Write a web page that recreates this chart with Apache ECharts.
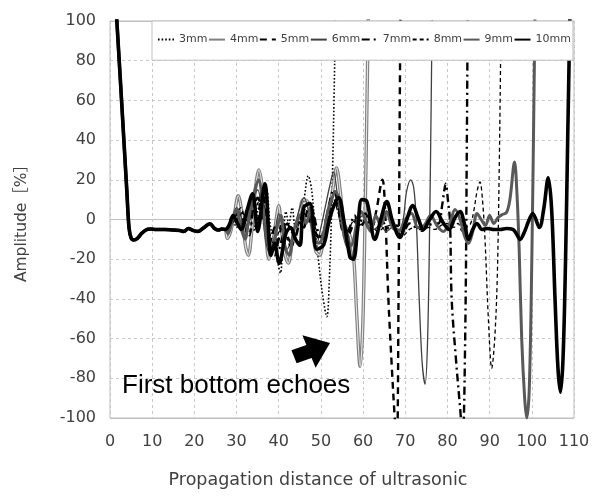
<!DOCTYPE html>
<html>
<head>
<meta charset="utf-8">
<script src="https://cdn.jsdelivr.net/npm/echarts/dist/echarts.min.js"></script>
<style>
html,body{margin:0;padding:0;background:#fff;}
#chart{width:593px;height:498px;}
</style>
</head>
<body>
<div id="chart"></div>
<script>
// Thickness labels of the test pieces (legend order)
const thicknessNames = ['3mm', '4mm', '5mm', '6mm', '7mm', '8mm', '9mm', '10mm'];

// Axis ticks
const xTicks = [0, 10, 20, 30, 40, 50, 60, 70, 80, 90, 100, 110];
const yTicks = [-100, -80, -60, -40, -20, 0, 20, 40, 60, 80, 100];

// Initial pulse and dead zone, shared by every waveform: [distance, amplitude %]
const sharedStart = [
  [1.2, 115], [2.6, 65], [4.0, 14], [4.5, -4], [5.0, -9.3], [5.6, -10.3], [6.5, -9.5],
  [7.5, -7], [8.5, -5.3], [9.5, -4.8], [11, -5], [13, -5], [15, -5.3], [16.5, -5.5],
  [17.5, -6], [18.6, -4.5], [19.7, -5.5], [20.9, -6], [22, -4.5], [23.7, -2.2],
  [24.8, -4.5], [25.7, -5.3], [26.5, -4.8], [27.3, -5]
];

// Remaining part of each waveform, up to its first bottom echo
const wave3mm = [
  [28, -6], [29, 0], [30, -4], [31, 3], [32, -2], [33, 7], [34, -6], [35, 4], [36, 12],
  [37, 16], [38, -3], [39, -12], [39.8, -22], [40.4, -27], [41, -12], [41.7, 4],
  [42.4, -2], [43.2, 6], [44, -4], [45, -2], [46, 10], [47, 22], [47.8, 15], [48.6, -4],
  [49.5, -22], [50.4, -38], [51.4, -49], [52, -30], [52.6, 10], [53.1, 60], [53.5, 110],
  [53.7, 140]
];
const wave4mm = [
  [27.8, -9.5], [28.6, -6], [29.5, 3], [30.4, 12], [31.3, 3], [32.1, -13], [32.8, -18],
  [33.6, -6], [34.4, 14], [35.3, 25], [36.1, 16], [36.9, -6], [37.7, -20], [38.6, -12],
  [39.4, 0], [40, 7], [40.6, -4], [41.4, -17], [42.3, -22], [43.1, -13], [44, -5],
  [45, 4], [45.8, 10], [46.8, 9], [47.8, -3], [48.8, -16], [49.7, -18], [50.7, -8],
  [51.8, 4], [52.8, 15], [53.7, 26], [54.6, 14], [55.4, -2], [56.2, -5], [57, -9],
  [57.8, -20], [58.5, -48], [59.3, -74], [59.9, -55], [60.5, 5], [61, 70], [61.4, 130]
];
const wave5mm = [
  [28, -6], [29, -1], [30, 3], [31, -2], [32, -6], [33, 5], [34, 9], [35, 0], [36, 14],
  [37, 4], [38, -14], [39, -18], [40, -10], [41, -2], [42, -8], [43, -12], [44, -4],
  [45, 2], [46, -4], [47, 6], [48, 2], [49, -8], [50, -10], [51, -3], [52, 5], [53, 12],
  [54, 6], [55, -5], [56, -10], [57, -6], [58, -1], [59, -4], [60, -2], [61, 2],
  [62, -4], [63, 3], [64.6, 20], [65.2, 5], [66, -40], [66.8, -74], [67.5, -100],
  [68, -115], [68.4, -40], [68.7, 60], [69, 140]
];
const wave6mm = [
  [28, -4], [29, 1], [30, 6], [31, 2], [32, -8], [33, -2], [34, 10], [35, 15], [36, 5],
  [37, -12], [38, -18], [39, -8], [40, 3], [41, -6], [42, -15], [43, -10], [44, -2],
  [45, 6], [46, 11], [47, 5], [48, -6], [49, -12], [50, -4], [51, 6], [52, 16], [53, 24],
  [53.8, 14], [54.6, -2], [55.5, -4], [56.5, -8], [57.3, -20], [58, -12], [59, 0],
  [60, 2], [61, -4], [62.5, -5], [64, -3], [65.5, -6], [67, -4], [68.5, -5], [69.5, 0],
  [70.3, 14], [71.3, 20], [72, 16], [72.6, 0], [73.3, -40], [74, -72], [74.7, -83],
  [75.3, -60], [75.8, 0], [76.2, 70], [76.5, 130]
];
const wave7mm = [
  [28, -5], [29, 2], [30, -1], [31, 4], [32, -4], [33, -8], [34, 6], [35, 11], [36, 3],
  [37, -6], [38, -10], [39, -4], [40, -15], [41, -8], [42, -2], [43, -6], [44, -8],
  [45, 0], [46, 3], [47, -2], [48, 4], [49, -4], [50, -9], [51, -2], [52, 8], [53, 15],
  [54, 8], [55, -4], [56, -9], [57, -3], [58, 2], [59, -2], [60.5, 3], [62, -4],
  [63.5, 2], [65, -2], [66.5, -5], [68, -3], [69.5, -6], [71, -2], [72.5, -4], [74, -5],
  [75.5, -3], [77, -2], [77.9, -2], [78.8, 8], [79.6, 18], [80.1, 10], [80.6, -1],
  [81, -40], [82, -70], [83, -95], [83.6, -110], [84.2, -60], [84.6, 40], [84.9, 140]
];
const wave8mm = [
  [28, -5], [29, -2], [30, 2], [31, 6], [32, 0], [33, -6], [34, 4], [35, 8], [36, 12],
  [37, 0], [38, -8], [39, -14], [40, -6], [41, 0], [42, -10], [43, -14], [44, -8],
  [45, -1], [46, 4], [47, 8], [48, 0], [49, -6], [50, -12], [51, -6], [52, 4], [53, 10],
  [54, 4], [55, -2], [56, -6], [57, -3], [58, 0], [59, -3], [60.5, -1], [62, -3],
  [63.5, -6], [65, -4], [66.5, -3], [68, -6], [69.5, -8], [71, -5], [72.5, -4], [74, -6],
  [75.5, -4], [77, -5], [78.5, -3], [80, -2], [81.5, -4], [82.5, -2], [83.5, -6],
  [84.5, -4], [85.5, -2], [86.3, 5], [87, 14], [87.7, 19], [88.3, 10], [88.9, -10],
  [89.7, -50], [90.5, -75], [91.2, -60], [91.8, -30], [92.3, 30], [92.7, 100], [92.9, 140]
];
const wave9mm = [
  [28, -7], [29, 0], [30, 5], [31, -4], [32, -10], [33, 3], [34, 12], [35.2, 20],
  [36.2, 8], [37.2, -10], [38.5, -16], [39.5, -5], [40.5, 2], [41.5, -14], [42.5, -18],
  [43.5, -6], [44.5, 0], [45.5, 3], [46.5, -2], [47.5, 5], [48.5, -10], [49.5, -12],
  [50.5, -8], [51.5, 3], [52.5, 10], [53.5, 14], [54.5, 8], [55.5, -8], [56.5, -14],
  [57.5, -12], [58.5, -2], [59.5, 4], [60.5, 0], [61.8, -6], [63, 2], [64.2, -3],
  [65.5, 4], [67, -4], [68.5, -6], [70, 0], [71.5, 3], [73, -4], [74.5, -3], [76, 2],
  [77.5, -3], [79, -6], [80.5, -2], [81.8, 5], [83, 0], [84, -8], [85, -12], [86, -6],
  [87, 3], [88, 0], [89, -3], [90, 2], [91, -2], [92, 1], [93, 2.5], [94, 3.5],
  [94.8, 10], [95.9, 29], [96.5, 12], [97, -15], [97.6, -60], [98.3, -90], [98.8, -100],
  [99.4, -85], [100, -20], [100.5, 60], [100.9, 130]
];
const wave10mm = [
  [28.2, -3], [29.2, 2], [30.2, -2], [31.1, -5], [32.4, 4], [33.8, 13], [35, -6],
  [36.7, 18], [38.2, -18], [39, -12], [40.1, -22], [41.7, -7], [42.8, -4], [44, -10],
  [45, -13], [45.9, 6], [47.4, 8], [49, -15], [50.6, -13], [51.8, -2], [52.9, 6],
  [54.2, 11], [55.4, 0], [56.9, -19], [57.7, -20], [58.7, -5], [59.7, 10], [60.9, 9],
  [62.8, -10], [64.2, 0], [65.6, 9], [67, -1], [68.7, -9], [70.2, -1], [71.8, 7],
  [73, 1], [74.3, -5], [75.8, 0], [77.3, 4], [78.8, -1], [80.4, -5], [81.8, 1], [83, 4],
  [84, -2], [85, -10], [86, -5], [87, -2], [88.2, -5], [89.5, -4.5], [91, -5],
  [92.5, -5], [94, -4.5], [95.5, -5], [96.3, -7], [97.2, -10], [98.3, -6], [99.2, -1],
  [100.2, 3], [101.8, -4], [102.8, 5], [103.9, 21], [104.7, 5], [105.5, -40],
  [106.2, -75], [106.8, -87], [107.4, -70], [108, -20], [108.5, 40], [109, 100],
  [109.3, 140]
];

const FONT = "'DejaVu Sans', 'Noto Sans CJK JP', sans-serif";

function wave(name, points, color, width, type) {
  return {
    name: name,
    type: 'line',
    data: sharedStart.concat(points),
    smooth: 0.35,
    symbol: 'none',
    clip: true,
    lineStyle: { color: color, width: width, type: type },
    itemStyle: { color: color },
    emphasis: { disabled: true },
    animation: false
  };
}

// 4mm is drawn as a compound (double) line: gray outline with a light core
const core4mm = wave('4mm core', wave4mm, '#e6e6e6', 1.1, 'solid');

const series = [
  wave('3mm', wave3mm, '#000000', 1.6, [1.6, 2]),
  wave('4mm', wave4mm, '#808080', 3.4, 'solid'),
  core4mm,
  wave('5mm', wave5mm, '#000000', 2.4, [7, 5]),
  wave('6mm', wave6mm, '#404040', 1.3, 'solid'),
  wave('7mm', wave7mm, '#000000', 2.4, [8, 4, 2, 4]),
  wave('8mm', wave8mm, '#000000', 1.3, [4, 3]),
  wave('9mm', wave9mm, '#595959', 3, 'solid'),
  wave('10mm', wave10mm, '#000000', 3.6, 'solid')
];

const chart = echarts.init(document.getElementById('chart'), null, { renderer: 'canvas' });
chart.setOption({
  animation: false,
  backgroundColor: '#ffffff',
  grid: {
    left: 110, right: 19, top: 21, bottom: 80,
    show: true, borderColor: '#bfbfbf', borderWidth: 1, backgroundColor: 'transparent'
  },
  legend: {
    data: thicknessNames,
    left: 152, top: 21,
    padding: [13, 2, 15, 5],
    backgroundColor: '#ffffff', borderColor: '#bfbfbf', borderWidth: 1,
    itemWidth: 16, itemHeight: 14, itemGap: 0.5,
    itemStyle: { opacity: 0 },
    selectedMode: false,
    textStyle: { fontSize: 11, color: '#404040', fontFamily: FONT }
  },
  xAxis: {
    type: 'value',
    min: xTicks[0], max: xTicks[xTicks.length - 1], interval: 10,
    name: 'Propagation distance of ultrasonic',
    nameLocation: 'middle', nameGap: 54,
    nameTextStyle: { fontSize: 17.5, color: '#404040', fontFamily: FONT, padding: [0, 48, 0, 0] },
    axisLine: { show: false },
    axisTick: { show: false },
    axisLabel: { fontSize: 16, color: '#404040', fontFamily: FONT, margin: 16 },
    splitLine: { show: true, lineStyle: { color: '#c8c8c8', width: 1, type: [3, 3] } }
  },
  yAxis: [{
    type: 'value',
    min: yTicks[0], max: yTicks[yTicks.length - 1], interval: 20,
    name: 'Amplitude［%］',
    nameLocation: 'middle', nameGap: 80, nameRotate: 90,
    nameTextStyle: { fontSize: 15.5, color: '#404040', fontFamily: FONT },
    axisLine: { show: false },
    axisTick: { show: false },
    axisLabel: { fontSize: 16, color: '#404040', fontFamily: FONT, margin: 14 },
    splitLine: { show: true, lineStyle: { color: '#c8c8c8', width: 1, type: [3, 3] } }
  }, {
    // solid zero line across the plot
    type: 'value', position: 'left',
    min: -100, max: 100, interval: 100,
    axisLine: { show: false }, axisTick: { show: false }, axisLabel: { show: false },
    splitLine: { show: true, lineStyle: { color: '#bfbfbf', width: 1, type: 'solid' } }
  }],
  series: series,
  graphic: [
    {
      type: 'polygon', z: 5, silent: true,
      shape: { points: [[291.4, 350.2], [306.4, 345.0], [302.4, 335.2], [330, 343], [315.6, 367.8], [311.6, 358.0], [296.6, 363.2]] },
      style: { fill: '#000000' }
    },
    {
      type: 'text', z: 5, silent: true,
      x: 122, y: 386,
      style: {
        text: 'First bottom echoes', fill: '#000000',
        font: "26px 'Liberation Sans', Arial, sans-serif",
        verticalAlign: 'middle'
      }
    }
  ]
});
</script>
</body>
</html>
